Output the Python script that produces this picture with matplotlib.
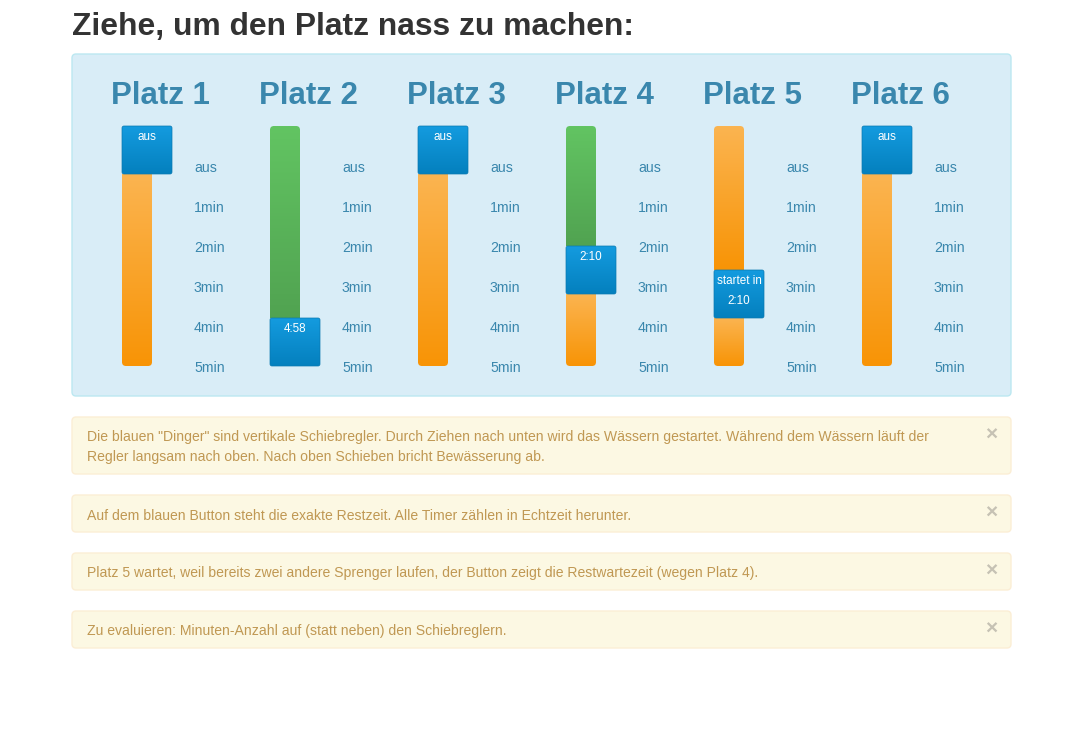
import numpy as np
import matplotlib
matplotlib.use("Agg")
import matplotlib.pyplot as plt
from matplotlib.patches import FancyBboxPatch
from matplotlib.colors import to_rgb

plt.rcParams['font.family'] = ['Liberation Sans', 'DejaVu Sans']

# Data
title = "Ziehe, um den Platz nass zu machen:"
plaetze = ["Platz 1", "Platz 2", "Platz 3", "Platz 4", "Platz 5", "Platz 6"]
time_labels = ["aus", "1min", "2min", "3min", "4min", "5min"]
# slider handle position on a 0..5 scale (0 = top / aus)
handle_pos = [0, 5.0, 0, 3.125, 3.75, 0]
handle_text = ["aus", "4:58", "aus", "2:10", "startet in\n2:10", "aus"]
upper_fill = [None, "green", None, "green", "orange", None]
hints = [
    "Die blauen \"Dinger\" sind vertikale Schiebregler. Durch Ziehen nach unten wird das Wässern gestartet. Während dem Wässern läuft der\n"
    "Regler langsam nach oben. Nach oben Schieben bricht Bewässerung ab.",
    "Auf dem blauen Button steht die exakte Restzeit. Alle Timer zählen in Echtzeit herunter.",
    "Platz 5 wartet, weil bereits zwei andere Sprenger laufen, der Button zeigt die Restwartezeit (wegen Platz 4).",
    "Zu evaluieren: Minuten-Anzahl auf (statt neben) den Schiebreglern.",
]

# Colours
gradients = {
    "orange": ("#fbb450", "#f89406"),
    "green": ("#62c462", "#51a351"),
    "blue": ("#149bdf", "#0480be"),
}

fig = plt.figure(figsize=(10.9, 7.31), dpi=100)
ax = fig.add_axes([0, 0, 1, 1])


def vgrad(x0, y0, w, h, colors, clip, z):
    if h <= 0:
        return
    top = np.array(to_rgb(colors[0]))
    bot = np.array(to_rgb(colors[1]))
    t = np.linspace(0, 1, 64)[:, None, None]
    img = top + (bot - top) * t
    im = ax.imshow(img, extent=(x0, x0 + w, y0 + h, y0), aspect='auto',
                   interpolation='bilinear', zorder=z)
    if clip is not None:
        im.set_clip_path(clip)


# Title
ax.text(72, 24, title, fontsize=22.9, fontweight='bold', color='#333333',
        ha='left', va='center_baseline')

# Blue panel
ax.add_patch(FancyBboxPatch((72, 54), 939, 342, boxstyle="round,pad=0,rounding_size=4",
                            facecolor='#d9edf7', edgecolor='#bce8f1', lw=1, zorder=1))

track_top, track_h, track_w = 126, 240, 30
handle_w, handle_h = 50, 48
travel = track_h - handle_h

for i, name in enumerate(plaetze):
    col_x = 111 + 148 * i
    tx = col_x + 11
    ax.text(col_x, 93, name, fontsize=22.5, fontweight='bold', color='#3a87ad',
            ha='left', va='center_baseline', zorder=3)

    for k, lab in enumerate(time_labels):
        ax.text(tx + 72, 166 + 40 * k, lab, fontsize=10.2, color='#3a87ad',
                ha='left', va='center_baseline', zorder=3)

    track = FancyBboxPatch((tx, track_top), track_w, track_h,
                           boxstyle="round,pad=0,rounding_size=4",
                           transform=ax.transData, facecolor='none',
                           edgecolor='none', lw=0, zorder=4)
    ax.add_patch(track)

    htop = track_top + handle_pos[i] / 5 * travel
    hbot = htop + handle_h
    if upper_fill[i] is not None:
        vgrad(tx, track_top, track_w, htop - track_top, gradients[upper_fill[i]], track, 2)
    vgrad(tx, hbot, track_w, track_top + track_h - hbot, gradients["orange"], track, 2)

    handle = FancyBboxPatch((tx, htop), handle_w, handle_h,
                            boxstyle="round,pad=0,rounding_size=2",
                            transform=ax.transData, facecolor='none',
                            edgecolor='#0a78b0', lw=0.5, zorder=6)
    ax.add_patch(handle)
    vgrad(tx, htop, handle_w, handle_h, gradients["blue"], handle, 5)
    for j, line in enumerate(handle_text[i].split("\n")):
        ax.text(tx + handle_w / 2, htop + 10 + 20 * j, line, fontsize=8.4,
                color='white', ha='center', va='center_baseline', zorder=7)

# Alerts
alert_top = [417, 495, 553, 611]
alert_h = [57, 37, 37, 37]
for top, h, txt in zip(alert_top, alert_h, hints):
    ax.add_patch(FancyBboxPatch((72, top), 939, h, boxstyle="round,pad=0,rounding_size=4",
                                facecolor='#fcf8e3', edgecolor='#fbeed5', lw=1, zorder=1))
    for j, line in enumerate(txt.split("\n")):
        ax.text(87, top + 19 + 20 * j, line, fontsize=10.1, color='#c09853',
                ha='left', va='center_baseline', zorder=2)
    ax.text(991, top + 18, "×", fontsize=15, fontweight='bold', color='#c6c2b4',
            ha='center', va='center', zorder=2)

ax.set_xlim(0, 1090)
ax.set_ylim(731, 0)
ax.axis('off')
fig.savefig("out.png", dpi=100, facecolor='white')
